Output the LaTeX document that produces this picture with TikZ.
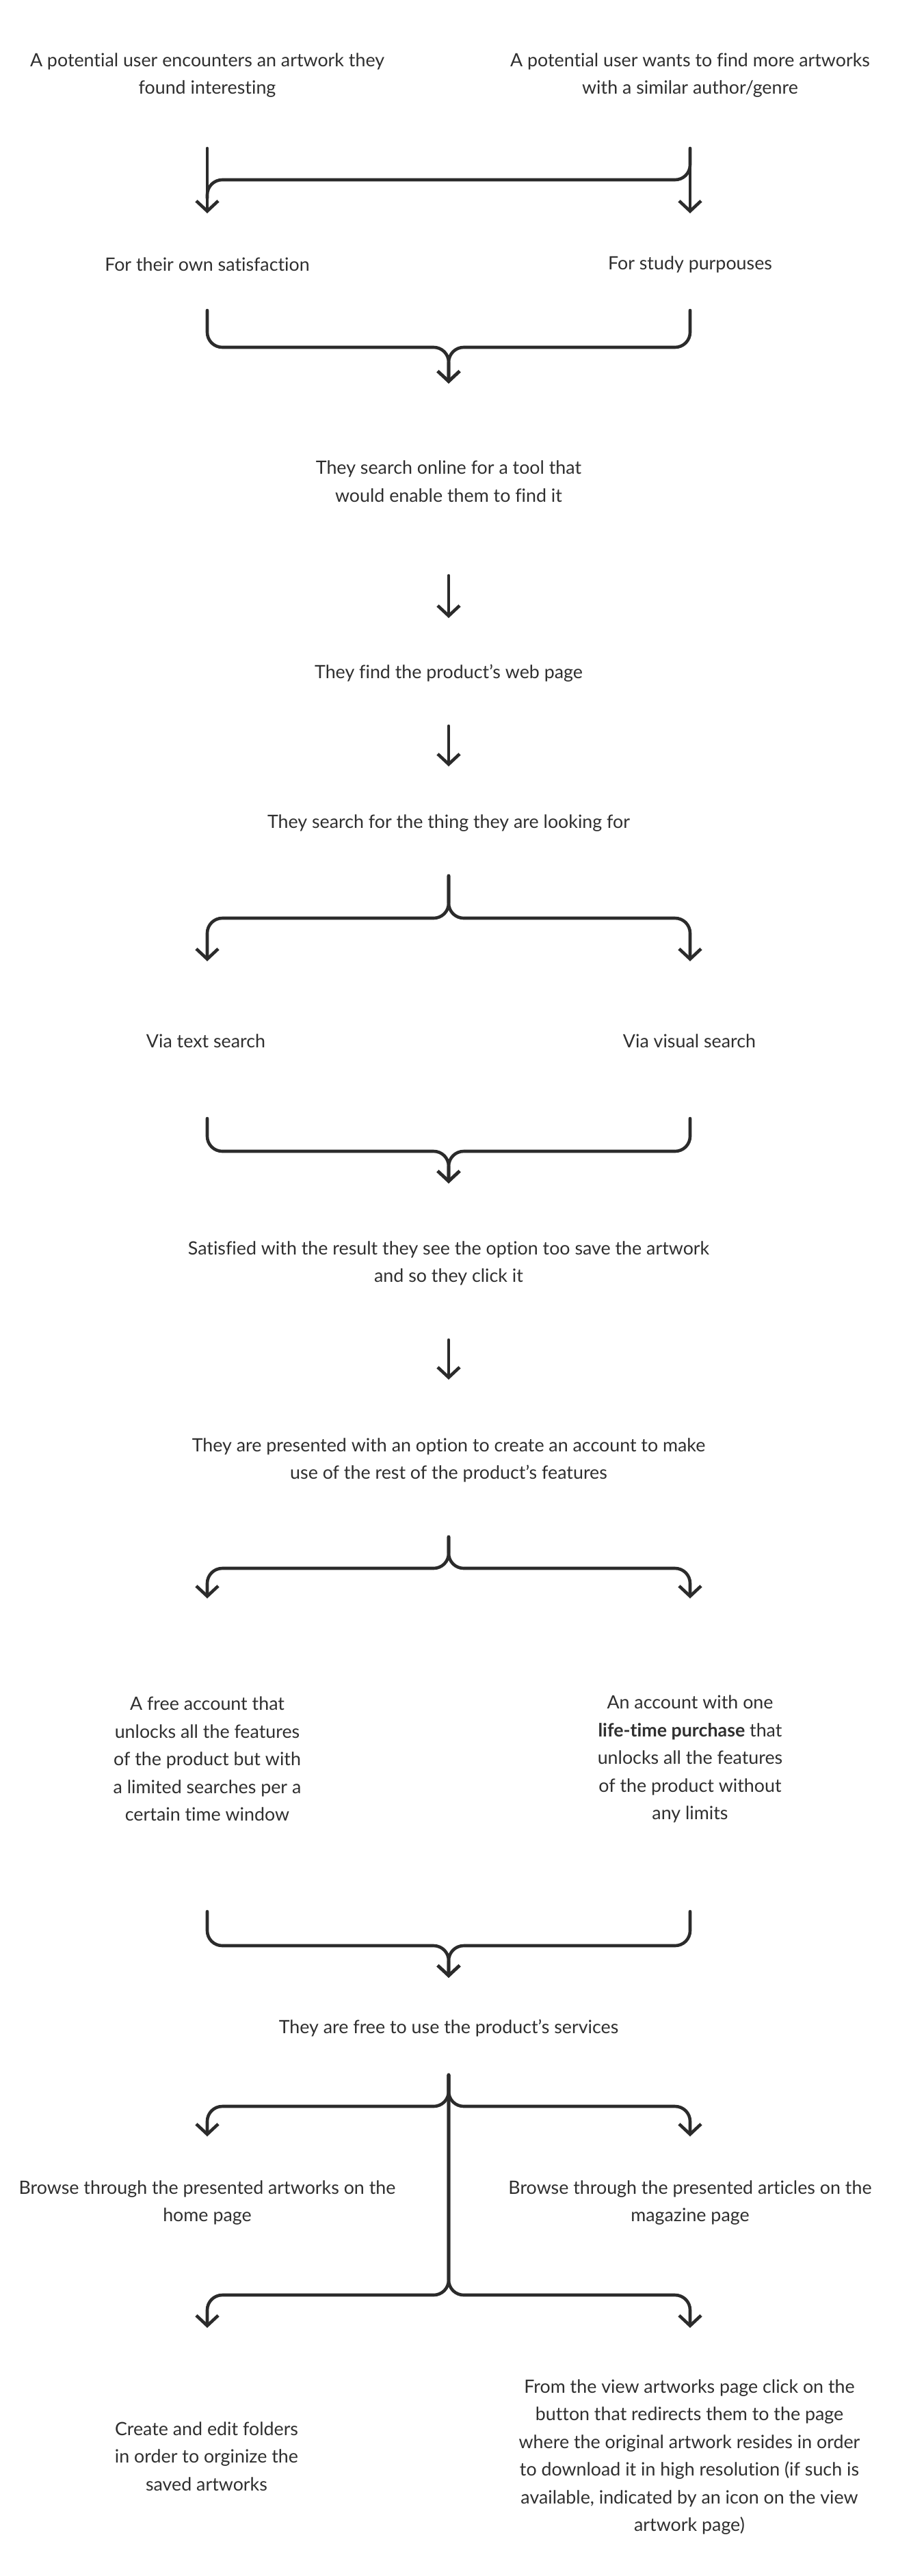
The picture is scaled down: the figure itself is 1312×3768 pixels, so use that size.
\documentclass[tikz,border=0pt]{standalone}
\usepackage{fontspec}
\setmainfont{Lato}[Ligatures=NoCommon]
\usetikzlibrary{arrows.meta}
\definecolor{ink}{HTML}{2B2B2B}
\definecolor{txt}{HTML}{2F2F2F}
\tikzset{
  lbl/.style={align=center, text=txt, font=\fontsize{26.8}{40.5}\selectfont, inner sep=0pt},
  conn/.style={draw=ink, line width=4.6pt, rounded corners=22pt, line cap=round, line join=round},
  arr/.style={conn, -{Straight Barb[length=15pt,width=32pt,line width=4.6pt]}}
}
\begin{document}
\begin{tikzpicture}[x=1pt,y=-1pt]
\fill[white] (0,0) rectangle (1312,3768);
\useasboundingbox (0,0) rectangle (1312,3768);
% texts
\node[lbl] (t1) at (303,110) {A potential user encounters an artwork they\\found interesting};
\node[lbl] (t2) at (1009,110) {A potential user wants to find more artworks\\with a similar author/genre};
\node[lbl] (o1) at (303,387) {For their own satisfaction};
\node[lbl] (o2) at (1009,387) {For study purpouses};
\node[lbl] (s1) at (656,704) {They search online for a tool that\\would enable them to find it};
\node[lbl] (s2) at (656,985) {They find the product's web page};
\node[lbl] (s3) at (656,1204) {They search for the thing they are looking for};
\node[lbl] (v1) at (301,1523) {Via text search};
\node[lbl] (v2) at (1008,1523) {Via visual search};
\node[lbl] (s4) at (656,1848) {Satisfied with the result they see the option too save the artwork\\and so they click it};
\node[lbl] (s5) at (656,2136) {They are presented with an option to create an account to make\\use of the rest of the product’s features};
\node[lbl] (a1) at (303,2573) {A free account that\\unlocks all the features\\of the product but with\\a limited searches per a\\certain time window};
\node[lbl] (a2) at (1009,2573) {An account with one\\\textbf{life-time purchase} that\\unlocks all the features\\of the product without\\any limits};
\node[lbl] (s6) at (656,2967) {They are free to use the product’s services};
\node[lbl] (b1) at (303,3222) {Browse through the presented artworks on the\\home page};
\node[lbl] (b2) at (1009,3222) {Browse through the presented articles on the\\magazine page};
\node[lbl] (c1) at (302,3593) {Create and edit folders\\in order to orginize the\\saved artworks};
\node[lbl] (c2) at (1008,3594) {From the view artworks page click on the\\button that redirects them to the page\\where the original artwork resides in order\\to download it in high resolution (if such is\\available, indicated by an icon on the view\\artwork page)};
% connector points
\coordinate (k1L) at (303,217); \coordinate (k1R) at (1009,217);
\coordinate (k1Lt) at (303,312); \coordinate (k1Rt) at (1009,312);
\coordinate (m1L) at (303,454); \coordinate (m1R) at (1009,454); \coordinate (m1t) at (656,561);
\coordinate (a1s) at (656,842); \coordinate (a1e) at (656,904);
\coordinate (a2s) at (656,1062); \coordinate (a2e) at (656,1121);
\coordinate (p1s) at (656,1281); \coordinate (p1L) at (303,1406); \coordinate (p1R) at (1009,1406);
\coordinate (m2L) at (303,1636); \coordinate (m2R) at (1009,1636); \coordinate (m2t) at (656,1731);
\coordinate (a3s) at (656,1960); \coordinate (a3e) at (656,2018);
\coordinate (p2s) at (656,2248); \coordinate (p2L) at (303,2338); \coordinate (p2R) at (1009,2338);
\coordinate (m3L) at (303,2796); \coordinate (m3R) at (1009,2796); \coordinate (m3t) at (656,2893);
\coordinate (p3s) at (656,3035); \coordinate (p3L) at (303,3125); \coordinate (p3R) at (1009,3125);
\coordinate (p4L) at (303,3405); \coordinate (p4R) at (1009,3405);
% connectors
\draw[arr] (k1L) -- (k1Lt);
\draw[arr] (k1R) -- (k1Rt);
\draw[conn] (k1R) -- (1009,263) -- (303,263) -- (303,290);
\draw[arr] (m1L) -- (303,508) -- (656,508) -- (m1t);
\draw[arr] (m1R) -- (1009,508) -- (656,508) -- (m1t);
\draw[arr] (a1s) -- (a1e);
\draw[arr] (a2s) -- (a2e);
\draw[arr] (p1s) -- (656,1343) -- (303,1343) -- (p1L);
\draw[arr] (p1s) -- (656,1343) -- (1009,1343) -- (p1R);
\draw[arr] (m2L) -- (303,1684) -- (656,1684) -- (m2t);
\draw[arr] (m2R) -- (1009,1684) -- (656,1684) -- (m2t);
\draw[arr] (a3s) -- (a3e);
\draw[arr] (p2s) -- (656,2294) -- (303,2294) -- (p2L);
\draw[arr] (p2s) -- (656,2294) -- (1009,2294) -- (p2R);
\draw[arr] (m3L) -- (303,2846) -- (656,2846) -- (m3t);
\draw[arr] (m3R) -- (1009,2846) -- (656,2846) -- (m3t);
\draw[arr] (p3s) -- (656,3081) -- (303,3081) -- (p3L);
\draw[arr] (p3s) -- (656,3081) -- (1009,3081) -- (p3R);
\draw[arr] (p3s) -- (656,3357) -- (303,3357) -- (p4L);
\draw[arr] (p3s) -- (656,3357) -- (1009,3357) -- (p4R);
\end{tikzpicture}
\end{document}
